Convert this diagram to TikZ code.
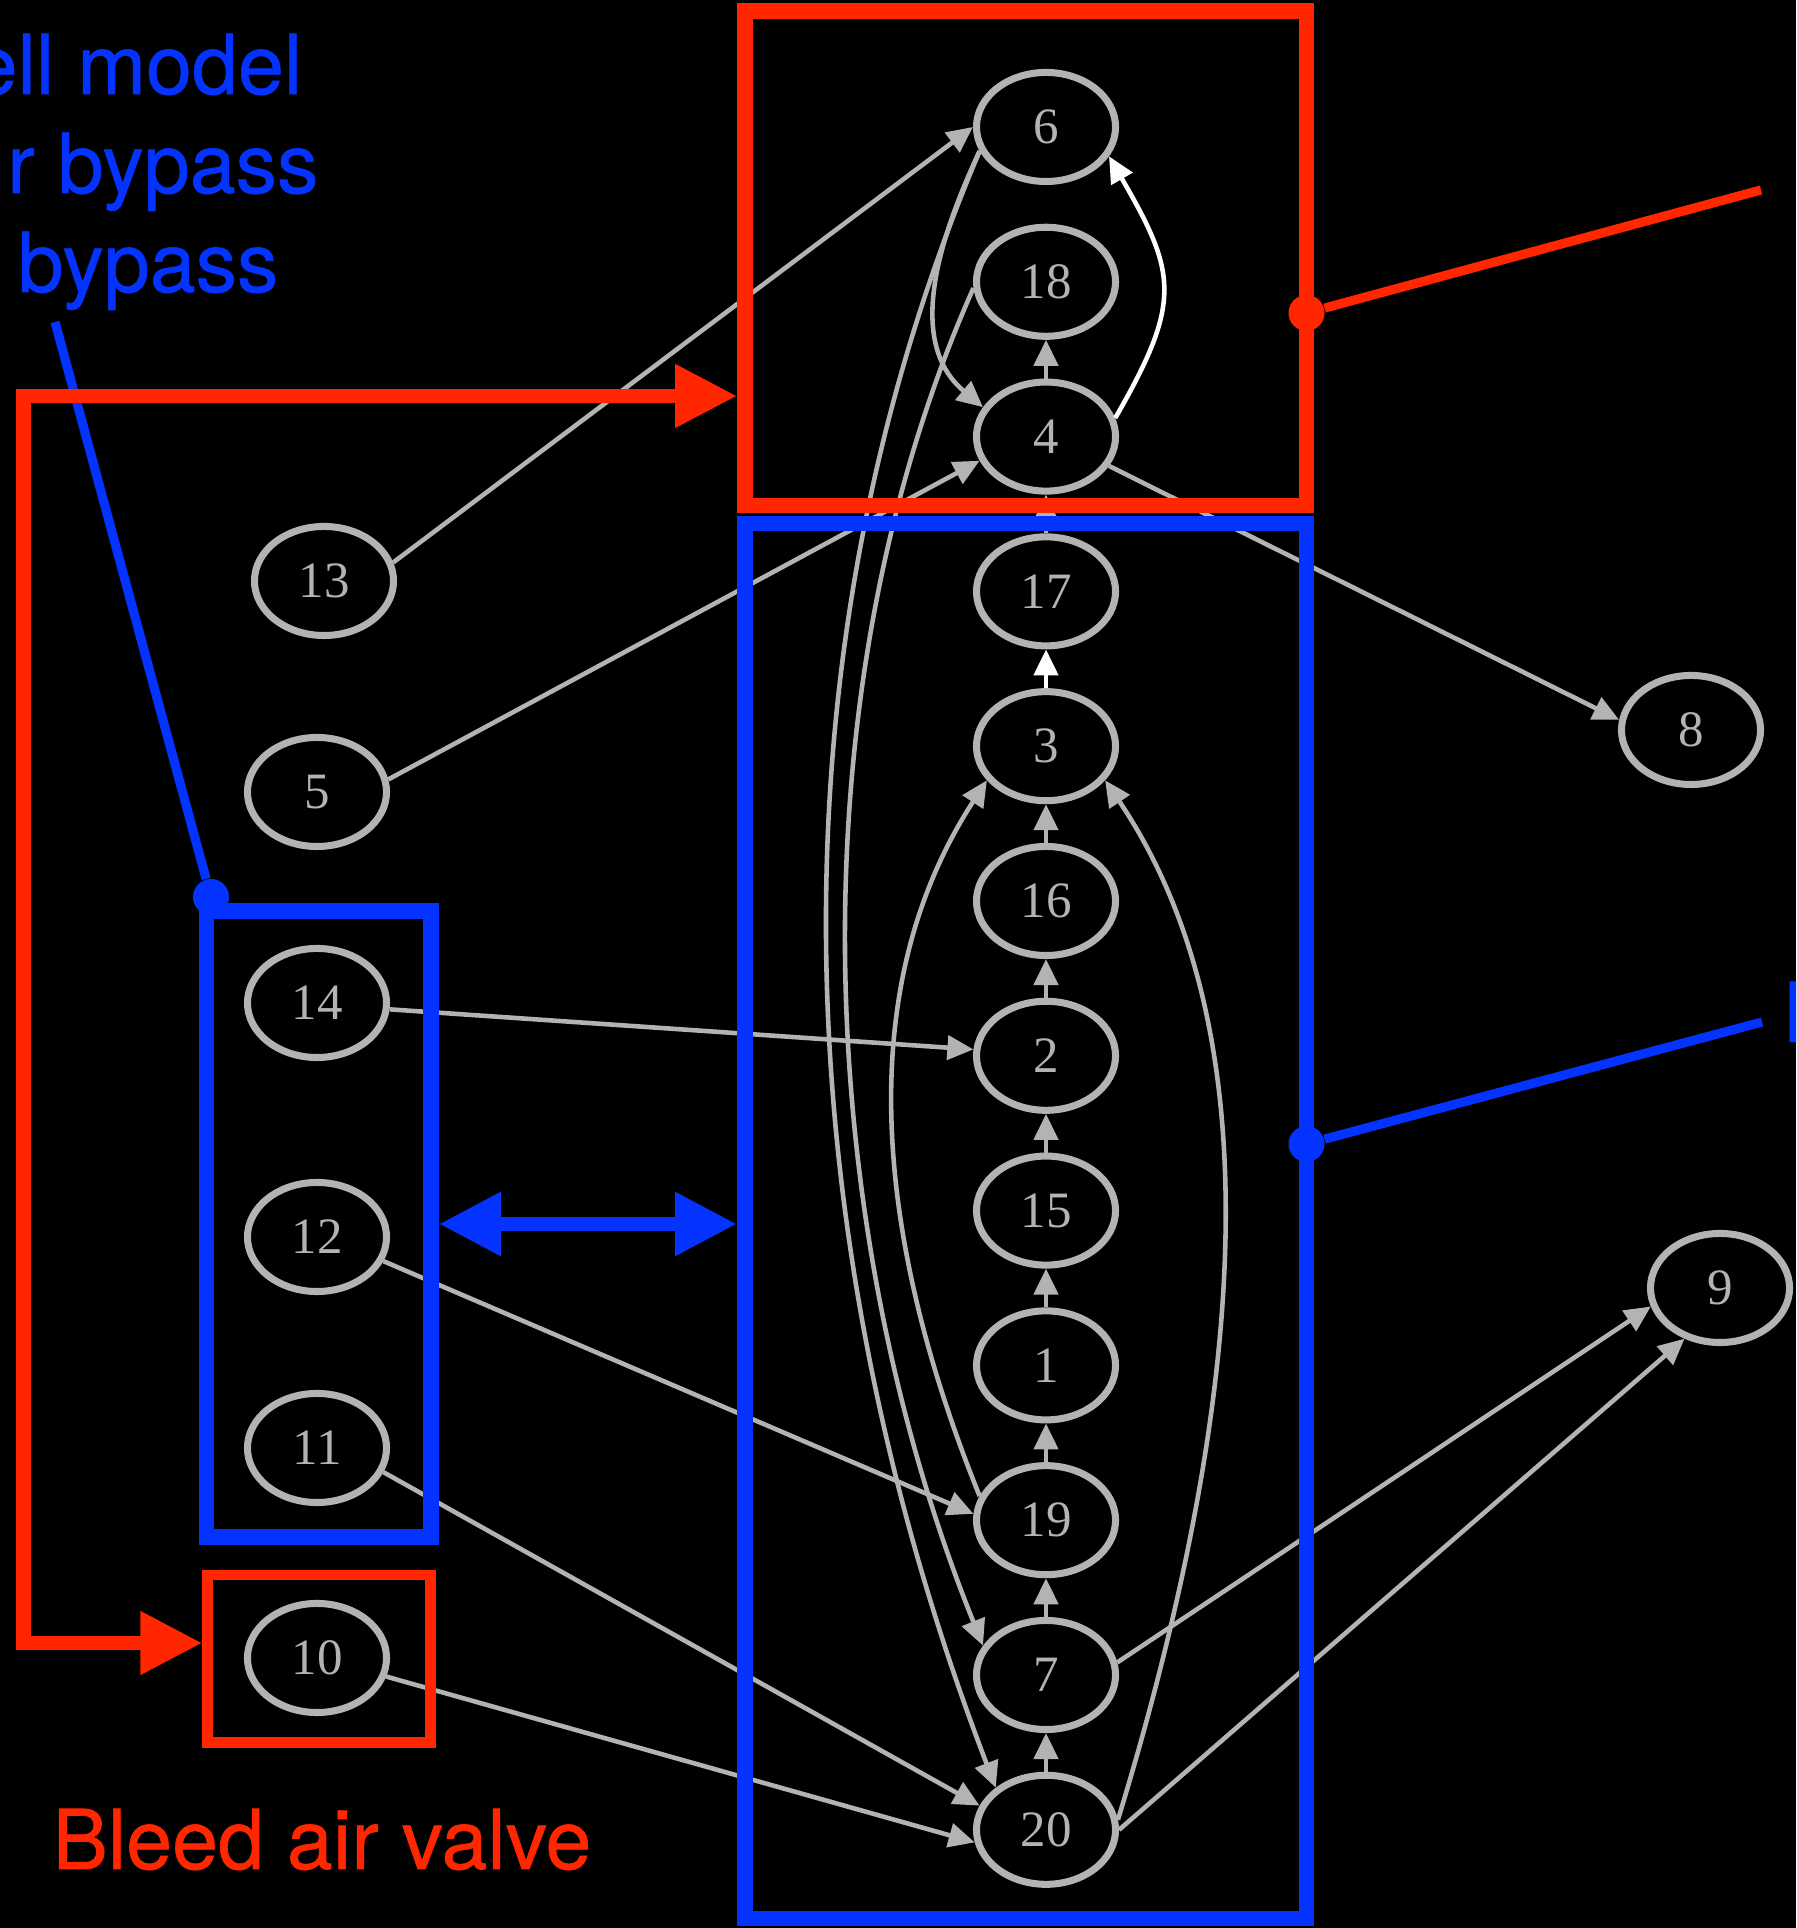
\documentclass[tikz,border=0pt]{standalone}
\usepackage{fontspec}
\setmainfont{Liberation Serif}
\newfontfamily\notefont{TeX Gyre Heros}[BoldFont={TeX Gyre Heros}, BoldFeatures={FakeBold=0.7}]
\usetikzlibrary{shapes.geometric, arrows.meta, positioning}

\definecolor{notered}{HTML}{FF2600}
\definecolor{noteblue}{HTML}{0433FF}
\definecolor{vtxgray}{HTML}{B3B3B3}

\begin{document}
\begin{tikzpicture}[
  x=0.01cm, y=0.01cm,
  vtx/.style={draw=vtxgray, ellipse, line width=2pt, minimum width=1.39cm, minimum height=1.09cm, inner sep=0pt, text=vtxgray, font=\fontsize{14.5}{17}\selectfont},
  link/.style={-{Triangle[length=0.26cm, width=0.24cm]}, draw=vtxgray, line width=1.3pt},
  hotlink/.style={link, draw=white},
  frame/.style={draw, line width=4.4pt, inner sep=0pt},
  dot/.style={circle, inner sep=0pt, minimum size=0.36cm},
  fatarrow/.style={{Triangle[length=0.62cm, width=0.6cm]}-{Triangle[length=0.62cm, width=0.6cm]}, line width=4.2pt},
  pointer/.style={line width=2.6pt},
  note/.style={inner sep=0pt, font=\notefont\bfseries\fontsize{23.5}{28}\selectfont}
]

\useasboundingbox (0,0) rectangle (1796,1928);
\fill[black] (0,0) rectangle (1796,1928);
\clip (0,0) rectangle (1796,1928);

% Column of states
\foreach \n [count=\i] in {6,18,4,17,3,16,2,15,1,19,7,20}
  \node[vtx] (n\n) at (1046, {1801-154.8*(\i-1)}) {\n};

% Side states
\node[vtx] (n13) at (324, 1347) {13};
\node[vtx] (n5) at (317, 1136) {5};
\node[vtx] (n14) at (317, 925) {14};
\node[vtx] (n12) at (317, 691) {12};
\node[vtx] (n11) at (317, 480) {11};
\node[vtx] (n10) at (317, 270) {10};
\node[vtx] (n8) at (1691, 1198) {8};
\node[vtx] (n9) at (1720, 640) {9};

% --- Chain ---
\foreach \a/\b in {4/18, 17/4, 16/3, 2/16, 15/2, 1/15, 19/1, 7/19, 20/7}
  \draw[link] (n\a) -- (n\b);
\draw[hotlink] (n3) -- (n17);

% --- Side links ---
\draw[link] (n13.15) -- (n6.180);
\draw[link] (n5.10) -- (n4.200);
\draw[link] (n14.355) -- (n2.175);
\draw[link] (n12.340) -- (n19.175);
\draw[link] (n11.340) -- (n20.160);
\draw[link] (n10.345) -- (n20.190);
\draw[link] (n4.335) -- (n8.172);
\draw[link] (n7.10) -- (n9.195);
\draw[link] (n20.0) -- (n9.235);

% --- Bent links ---
\draw[link] (n6.200) to[out=245, in=140, distance=1cm] (n4.155);
\draw[hotlink] (n4.15) to[out=60, in=300, distance=1.35cm] (n6.335);
\draw[link] (n6.200) to[out=247, in=111, distance=5.7cm] (n20.140);
\draw[link] (n18.185) to[out=246, in=112, distance=4.5cm] (n7.155);
\draw[link] (n19.160) to[out=112, in=237, distance=2.6cm] (n3.210);
\draw[link] (n20.8) to[out=73, in=304, out distance=4.7cm, in distance=2.9cm] (n3.330);

% --- Frames ---
\node[frame, draw=notered, minimum width=5.615cm, minimum height=4.945cm] (topbox) at (1025.75, 1669.75) {};
\node[frame, draw=noteblue, minimum width=5.615cm, minimum height=13.94cm] (bigbox) at (1025.75, 707) {};
\node[frame, draw=noteblue, minimum width=2.245cm, minimum height=6.26cm] (leftbox) at (318.75, 704) {};
\node[frame, draw=notered, line width=2.9pt, minimum width=2.23cm, minimum height=1.675cm] (valvebox) at (319, 269.25) {};

% --- Pointers ---
\node[dot, fill=notered] (rdot) at (1306.5, 1615) {};
\coordinate (rtip) at (1761, 1738);
\draw[pointer, notered] (rdot) -- (rtip);
\node[dot, fill=noteblue] (bdot) at (1306.5, 784) {};
\coordinate (btip) at (1762, 906);
\draw[pointer, noteblue] (bdot) -- (btip);
\node[dot, fill=noteblue] (ldot) at (211, 1031) {};
\coordinate (ltip) at (55, 1606);
\draw[pointer, noteblue] (ldot) -- (ltip);

% --- Bracket arrows ---
\coordinate (lbot) at (23.5, 285);
\coordinate (ltop) at (23.5, 1532);
\draw[fatarrow, notered, line width=4pt] (lbot -| valvebox.west) -- (lbot) -- (ltop) -- (ltop -| topbox.west);
\draw[fatarrow, noteblue] (leftbox.east) -- (leftbox.east -| bigbox.west);

% --- Notes ---
\node[note, text=notered, anchor=base west] (valvelbl) at (52, 59) {Bleed air valve};
\node[note, text=noteblue, anchor=base east] (modellbl) at (303, 1834) {ell model};
\node[note, text=noteblue, anchor=base east] (bypasslbl) at (319, 1735) {r bypass};
\node[note, text=noteblue, anchor=base east] (fanlbl) at (279, 1636) {bypass};
\node[note, text=noteblue, anchor=base west] (cutlbl) at (1781, 886) {I};

\end{tikzpicture}
\end{document}
